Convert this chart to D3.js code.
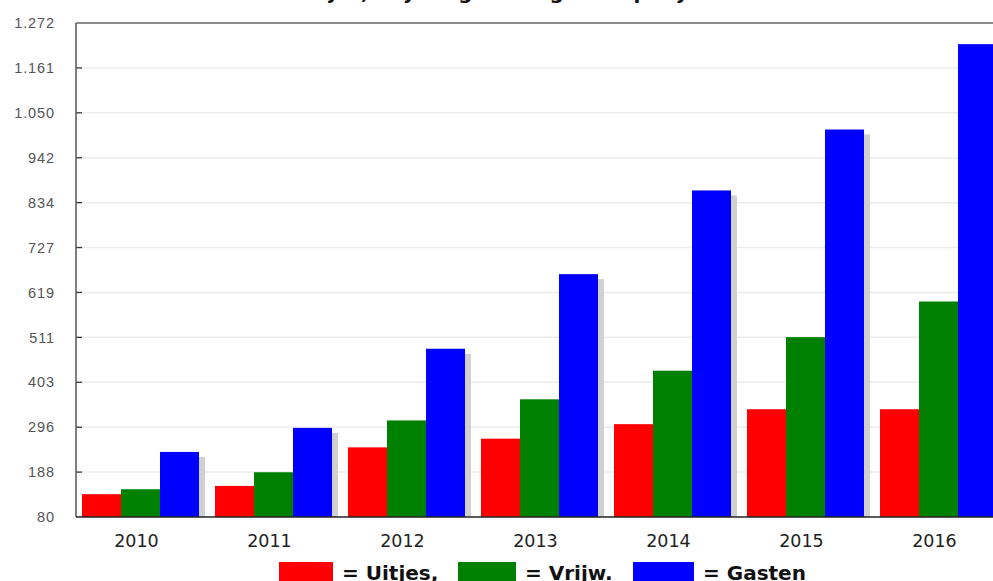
<!DOCTYPE html>
<html>
<head>
<meta charset="utf-8">
<script src="https://cdn.jsdelivr.net/npm/d3@7"></script>
<style>
  body { margin: 0; background: #fff; overflow: hidden; }
  svg { display: block; }
</style>
</head>
<body>
<div id="chart"></div>
<script>
// data
const years = ["2010", "2011", "2012", "2013", "2014", "2015", "2016"];
const uitjes = [135, 155, 248, 269, 304, 340, 340];
const vrijwilligers = [147, 188, 313, 364, 433, 514, 600];
const gasten = [237, 295, 486, 666, 868, 1015, 1221];
const seriesNames = ["Uitjes", "Vrijw.", "Gasten"];
const seriesColors = ["#ff0000", "#008000", "#0000ff"];
const yTickLabels = ["80", "188", "296", "403", "511", "619", "727", "834", "942", "1.050", "1.161", "1.272"];
const yMin = 80;
const yMax = 1272;

const width = 993;
const height = 581;
const plotLeft = 76;
const plotTop = 23;
const plotBottom = 517;

const svg = d3.select("#chart").append("svg").attr("width", width).attr("height", height).attr("id", "svg");

const y = d3.scaleLinear().domain([yMin, yMax]).range([plotBottom, plotTop]);
const x = d3.scaleBand().domain(years).range([plotLeft, plotLeft + 7 * 133]);
const xInner = d3.scaleBand().domain(seriesNames).range([6, 6 + 117]);

// title (cut off at the top of the picture)
svg
  .append("text")
  .attr("x", 470)
  .attr("y", -1)
  .attr("text-anchor", "middle")
  .style("font", "bold 20px 'DejaVu Sans'")
  .attr("fill", "#111")
  .text("Aantal uitjes, vrijwilligers en gasten per jaar");

// gridlines and ticks, evenly spaced
const tickValues = yTickLabels.map((d, i) => yMin + (i * (yMax - yMin)) / (yTickLabels.length - 1));

svg
  .append("g")
  .selectAll("line")
  .data(tickValues.slice(1, -1))
  .enter()
  .append("line")
  .attr("x1", plotLeft + 6)
  .attr("x2", width)
  .attr("y1", (d) => y(d))
  .attr("y2", (d) => y(d))
  .attr("stroke", "#ececec")
  .attr("stroke-width", 1.5);

svg
  .append("g")
  .selectAll("line")
  .data(tickValues.slice(1, -1))
  .enter()
  .append("line")
  .attr("x1", plotLeft)
  .attr("x2", plotLeft + 6)
  .attr("y1", (d) => y(d))
  .attr("y2", (d) => y(d))
  .attr("stroke", "#333")
  .attr("stroke-width", 1.3);

svg
  .append("g")
  .selectAll("text")
  .data(tickValues)
  .enter()
  .append("text")
  .attr("x", 55)
  .attr("y", (d) => y(d))
  .attr("dy", "0.36em")
  .attr("text-anchor", "end")
  .attr("fill", "#555")
  .style("font", "14.5px 'Liberation Sans'")
  .style("letter-spacing", "0.9px")
  .text((d, i) => yTickLabels[i]);

// bars
const rows = years.map((year, i) => ({
  year: year,
  values: [uitjes[i], vrijwilligers[i], gasten[i]],
}));

const groups = svg
  .append("g")
  .selectAll("g")
  .data(rows)
  .enter()
  .append("g")
  .attr("transform", (d) => `translate(${x(d.year)},0)`);

// shadows first
groups
  .selectAll("rect.shadow")
  .data((d) => d.values.map((v, i) => ({ name: seriesNames[i], value: v })))
  .enter()
  .append("rect")
  .attr("class", "shadow")
  .attr("x", (d) => xInner(d.name) + 6)
  .attr("y", (d) => y(d.value) + 5)
  .attr("width", xInner.bandwidth())
  .attr("height", (d) => plotBottom - y(d.value) - 5)
  .attr("fill", "#d0d0d0");

groups
  .selectAll("rect.bar")
  .data((d) => d.values.map((v, i) => ({ name: seriesNames[i], value: v, color: seriesColors[i] })))
  .enter()
  .append("rect")
  .attr("class", "bar")
  .attr("x", (d) => xInner(d.name))
  .attr("y", (d) => y(d.value))
  .attr("width", xInner.bandwidth())
  .attr("height", (d) => plotBottom - y(d.value))
  .attr("fill", (d) => d.color);

// axes lines
svg.append("line").attr("x1", plotLeft).attr("x2", width).attr("y1", plotTop).attr("y2", plotTop).attr("stroke", "#666").attr("stroke-width", 1.5);
svg.append("line").attr("x1", plotLeft).attr("x2", plotLeft).attr("y1", plotTop).attr("y2", plotBottom).attr("stroke", "#555").attr("stroke-width", 1.5);
svg.append("line").attr("x1", plotLeft).attr("x2", width).attr("y1", plotBottom).attr("y2", plotBottom).attr("stroke", "#222").attr("stroke-width", 1.5);

// year labels
svg
  .append("g")
  .selectAll("text")
  .data(years)
  .enter()
  .append("text")
  .attr("x", (d) => x(d) + 6 + 117 / 2 - 4)
  .attr("y", 547)
  .attr("text-anchor", "middle")
  .attr("fill", "#222")
  .style("font", "17.5px 'DejaVu Sans'")
  .text((d) => d);

// legend
const legendRects = [
  { x: 279, w: 54 },
  { x: 458, w: 58 },
  { x: 633, w: 61 },
];
const legend = svg
  .append("g")
  .selectAll("g")
  .data(seriesNames)
  .enter()
  .append("g");

legend
  .append("rect")
  .attr("x", (d, i) => legendRects[i].x)
  .attr("y", 562)
  .attr("width", (d, i) => legendRects[i].w)
  .attr("height", 24)
  .attr("fill", (d, i) => seriesColors[i]);

legend
  .append("text")
  .attr("x", (d, i) => legendRects[i].x + legendRects[i].w + 9)
  .attr("y", 580)
  .attr("fill", "#111")
  .style("font", "bold 20px 'DejaVu Sans'")
  .text((d, i) => "= " + (i === 0 ? d + "," : d));
</script>
</body>
</html>
